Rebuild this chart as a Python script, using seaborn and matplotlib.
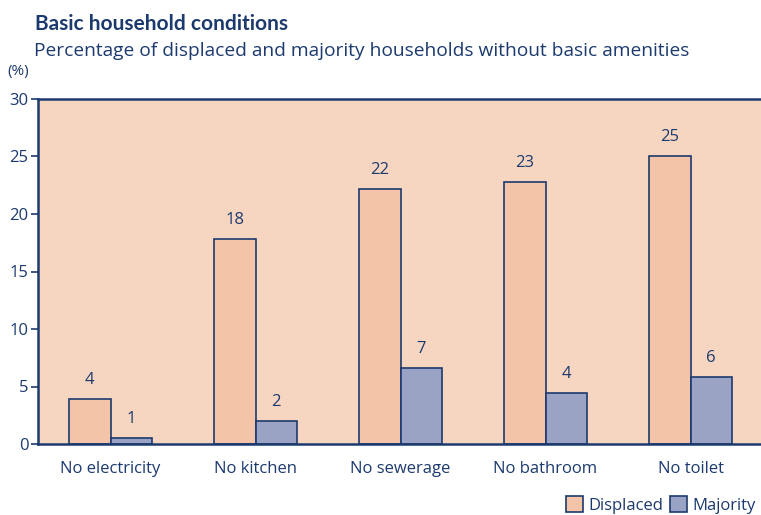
import matplotlib
matplotlib.use("Agg")
import matplotlib.pyplot as plt
import seaborn as sns
import pandas as pd
from matplotlib.patches import Patch

categories = ["No electricity", "No kitchen", "No sewerage", "No bathroom", "No toilet"]
displaced = [3.9, 17.8, 22.2, 22.8, 25.0]
majority = [0.5, 2.0, 6.6, 4.4, 5.8]
series_names = ["Displaced", "Majority"]
y_ticks = [0, 5, 10, 15, 20, 25, 30]

NAVY = "#1c3a6e"
BG = "#f6d6c1"
COLORS = {"Displaced": "#f3c4a7", "Majority": "#9aa3c3"}

df = pd.DataFrame({
    "category": categories * 2,
    "value": displaced + majority,
    "group": [series_names[0]] * len(categories) + [series_names[1]] * len(categories),
})

sns.set_theme(style="white")
plt.rcParams["font.family"] = ["Open Sans", "DejaVu Sans"]

fig = plt.figure(figsize=(7.61, 5.15), dpi=100)
ax = fig.add_axes([38 / 761, 1 - 444 / 515, 725 / 761, 345 / 515])
ax.set_facecolor(BG)

sns.barplot(data=df, x="category", y="value", hue="group", order=categories,
            hue_order=series_names, palette=COLORS, width=0.57, gap=0,
            edgecolor=NAVY, linewidth=1.2, saturation=1, legend=False, ax=ax)

def half_up(v):
    return f"{int(v + 0.5)}"

for cont in ax.containers:
    ax.bar_label(cont, labels=[half_up(v) for v in cont.datavalues],
                 padding=8, color=NAVY, fontsize=12)

ax.set_ylim(0, 30)
ax.set_xlim(-0.5, len(categories) - 0.5)
ax.set_yticks(y_ticks)
ax.set_yticklabels([str(t) for t in y_ticks])
ax.set_xlabel("")
ax.set_ylabel("")

# category labels at centres, tick marks at group boundaries
ax.set_xticks(range(len(categories)))
ax.set_xticklabels(categories)
ax.tick_params(axis="x", which="major", length=0, pad=12, labelsize=12, colors=NAVY)
ax.set_xticks([i + 0.5 for i in range(-1, len(categories))], minor=True)
ax.tick_params(axis="x", which="minor", length=6, width=1.5, color=NAVY, direction="out")
ax.tick_params(axis="y", length=5, width=1.2, color=NAVY, labelcolor=NAVY,
               labelsize=12, direction="out", pad=2, left=True)

for side in ["left", "bottom", "top"]:
    ax.spines[side].set_visible(True)
    ax.spines[side].set_color(NAVY)
    ax.spines[side].set_linewidth(1.8)
ax.spines["right"].set_visible(False)

fig.text(35 / 761, 1 - 24 / 515, "Basic household conditions", fontsize=15,
         fontweight="bold", color=NAVY, va="center", ha="left",
         family=["Lato", "DejaVu Sans"])
fig.text(34 / 761, 1 - 51 / 515,
         "Percentage of displaced and majority households without basic amenities",
         fontsize=13.8, color=NAVY, va="center", ha="left")
fig.text(7 / 761, 1 - 72 / 515, "(%)", fontsize=11, color=NAVY, va="center", ha="left")

handles = [Patch(facecolor=COLORS[n], edgecolor=NAVY, linewidth=1.2, label=n) for n in series_names]
fig.legend(handles=handles, loc="lower right", bbox_to_anchor=(1.003, -0.012), ncol=2,
           frameon=False, fontsize=12, labelcolor=NAVY, handlelength=1.0,
           handleheight=1.1, handletextpad=0.35, columnspacing=0.4, borderaxespad=0.05)

fig.savefig("out.png", dpi=100, facecolor="white")
